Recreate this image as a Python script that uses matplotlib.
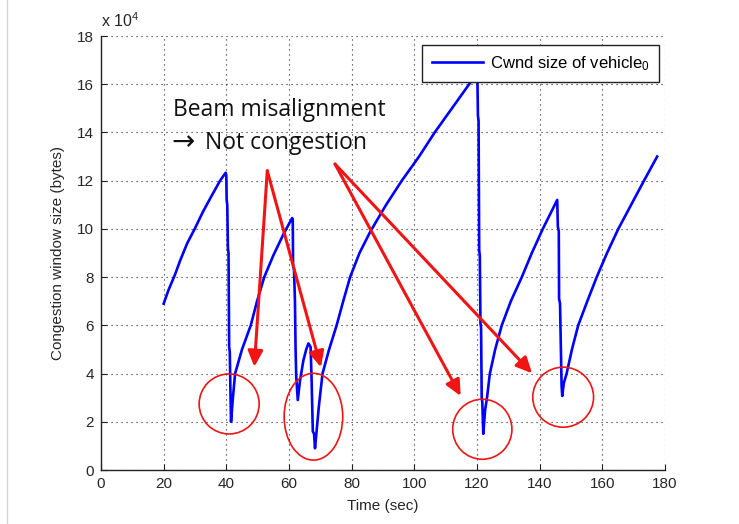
import matplotlib
matplotlib.use("Agg")
import matplotlib.pyplot as plt
from matplotlib.patches import Ellipse
from matplotlib.lines import Line2D

plt.rcParams['font.family'] = ['Liberation Sans', 'DejaVu Sans']
plt.rcParams['mathtext.fontset'] = 'custom'
plt.rcParams['mathtext.rm'] = 'Liberation Sans'
plt.rcParams['mathtext.it'] = 'Liberation Sans:italic'

# ---- data (time in s, cwnd in units of 1e4 bytes) ----
time = [20, 21.5, 23.6, 25.3, 27.5, 29.9, 32.5, 35, 38, 39.8,
        40.0, 40.1, 40.3, 40.5, 40.7, 40.9, 41.1, 41.3, 41.5,
        42.1, 42.8, 45, 47.8, 49.8, 52.1, 55, 58.3, 61.0,
        61.2, 61.3, 61.6, 61.9, 62.1, 62.3, 62.8,
        63.5, 64.6, 65.5, 66.2, 66.9, 67.2, 67.6, 68.0, 68.3,
        68.8, 69.5, 70.7, 72.8, 75.2, 77.3, 79.5, 82.5, 86, 91, 96, 101.5, 106.5, 112, 117.5, 120.1,
        120.3, 120.5, 120.7, 120.9, 121.1, 121.3, 121.5, 121.7, 122.0,
        122.6, 123.2, 124.1, 125.8, 127.9, 130.8, 134.3, 137.5, 141, 145.6,
        145.8, 146.1, 146.2, 146.5, 146.7, 147.0, 147.2,
        147.7, 148.6, 150.3, 152.3, 155.2, 158.2, 161.5, 165.1, 169.2, 173.3, 177.5]
cwnd = [6.9, 7.45, 8.1, 8.7, 9.4, 10.0, 10.7, 11.3, 12.0, 12.33,
        12.2, 11.2, 11.0, 9.2, 9.0, 5.1, 4.9, 3.3, 2.0,
        3.0, 4.0, 5.0, 6.0, 7.0, 8.0, 8.9, 9.8, 10.45,
        10.4, 8.5, 8.3, 7.0, 5.0, 3.9, 2.9,
        3.7, 4.55, 5.0, 5.25, 5.1, 3.8, 1.6, 1.5, 0.9,
        1.6, 2.6, 4.0, 5.0, 6.0, 7.0, 8.0, 9.0, 9.9, 11.0, 12.0, 13.0, 14.0, 15.0, 16.0, 16.5,
        14.7, 14.5, 9.1, 8.9, 6.1, 5.9, 3.0, 2.8, 1.5,
        2.5, 3.0, 4.0, 5.0, 6.0, 7.0, 8.0, 9.0, 10.0, 11.2,
        10.1, 9.9, 7.1, 6.9, 5.5, 3.5, 3.07,
        3.6, 4.0, 5.0, 6.0, 7.0, 8.0, 9.0, 10.0, 11.0, 12.0, 13.0]

x_ticks = [0, 20, 40, 60, 80, 100, 120, 140, 160, 180]
y_ticks = [0, 2, 4, 6, 8, 10, 12, 14, 16, 18]
legend_label = 'Cwnd size of vehicle$_0$'

# annotation: ellipses (center x, center y, width, height) in data units
circle_x = [40.9, 67.8, 121.7, 147.5]
circle_y = [2.74, 2.21, 1.69, 3.02]
circle_w = [19.15, 18.7, 18.9, 19.4]
circle_h = [2.49, 3.6, 2.49, 2.49]
# arrows: start -> tip
arrow_start = [(53.07, 12.41), (53.07, 12.41), (74.68, 12.69), (74.68, 12.69)]
arrow_tip = [(48.93, 4.28), (70.2, 4.26), (114.8, 3.07), (137.6, 4.01)]
note_lines = ['Beam misalignment', 'Not congestion']

fig = plt.figure(figsize=(7.39, 5.24), dpi=100)
ax = fig.add_axes([101/739, 54/524, 564/739, 434/524])

ax.plot(time, cwnd, color=(0, 0, 1), lw=1.9, label=legend_label, zorder=3)

ax.set_xlim(0, 180)
ax.set_ylim(0, 18)
ax.set_xticks(x_ticks)
ax.set_yticks(y_ticks)
ax.grid(True, color='#222222', linestyle=(0, (1, 3.5)), linewidth=0.8)
for s in ['top', 'right']:
    ax.spines[s].set_visible(False)
for s in ['left', 'bottom']:
    ax.spines[s].set_linewidth(1.0)
    ax.spines[s].set_color('#222222')
ax.tick_params(direction='in', length=4, width=0.8, labelsize=11,
               labelcolor='#262626', color='#222222', pad=5)

ax.set_xlabel('Time (sec)', fontsize=11, color='#262626', labelpad=6)
ax.set_ylabel('Congestion window size (bytes)', fontsize=11, color='#262626', labelpad=9)
ax.text(0.0, 1.02, r'x 10$^{4}$', transform=ax.transAxes, fontsize=11.5,
        color='#262626', va='baseline', ha='left')

leg = ax.legend(loc='upper right', bbox_to_anchor=(0.989, 0.979), fontsize=12,
                fancybox=False, edgecolor='#222222', framealpha=1,
                handlelength=3.1, handletextpad=0.4, borderpad=0.55,
                borderaxespad=0)
leg.get_frame().set_linewidth(1.0)

for cx, cy, w, h in zip(circle_x, circle_y, circle_w, circle_h):
    ax.add_patch(Ellipse((cx, cy), w, h, fill=False, edgecolor='#f01414', lw=1.2, zorder=4))

for (sx, sy), (tx, ty) in zip(arrow_start, arrow_tip):
    ax.annotate('', xy=(tx, ty), xytext=(sx, sy),
                arrowprops=dict(arrowstyle='-|>,head_length=9.5,head_width=4.5',
                                mutation_scale=1, color='#f01414', lw=2.2,
                                shrinkA=0, shrinkB=0), zorder=4)

note_font = ['Open Sans', 'DejaVu Sans']
ax.text(23.0, 14.69, note_lines[0], fontsize=16.5, family=note_font,
        color='#111111', va='baseline', ha='left', zorder=6)
ax.text(22.6, 13.27, '\u2192', fontsize=20, family=['DejaVu Sans'],
        color='#111111', va='baseline', ha='left', zorder=6)
ax.text(33.3, 13.31, note_lines[1], fontsize=16.5, family=note_font,
        color='#111111', va='baseline', ha='left', zorder=6)

fig.add_artist(Line2D([7/739, 7/739], [0, 1], color='#d6d6d6', lw=1))

fig.savefig('out.png', dpi=100)
